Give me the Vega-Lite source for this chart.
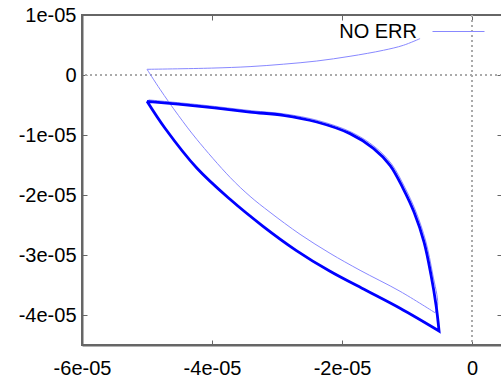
{
  "$schema": "https://vega.github.io/schema/vega-lite/v6.json",
  "width": 420,
  "height": 330,
  "autosize": {"type": "none"},
  "padding": {"left": 82, "top": 15, "right": 0, "bottom": 34},
  "background": "white",
  "config": {
    "view": {"stroke": "#666", "strokeWidth": 2},
    "axis": {
      "labelFont": "Liberation Sans",
      "labelFontSize": 20,
      "labelColor": "#000",
      "labelFlush": false,
      "labelOverlap": false,
      "domainColor": "#666",
      "domainWidth": 2,
      "tickColor": "#666",
      "tickSize": -5,
      "tickWidth": 1,
      "grid": false,
      "title": null
    }
  },
  "data": {
    "values": [
      {"s": "NO ERR", "i": 0, "x": -8.0e-6, "y": 6.07e-6},
      {"s": "NO ERR", "i": 1, "x": -1.057e-5, "y": 4.95e-6},
      {"s": "NO ERR", "i": 2, "x": -1.364e-5, "y": 4.12e-6},
      {"s": "NO ERR", "i": 3, "x": -1.877e-5, "y": 3.12e-6},
      {"s": "NO ERR", "i": 4, "x": -2.389e-5, "y": 2.33e-6},
      {"s": "NO ERR", "i": 5, "x": -2.903e-5, "y": 1.8e-6},
      {"s": "NO ERR", "i": 6, "x": -3.415e-5, "y": 1.4e-6},
      {"s": "NO ERR", "i": 7, "x": -4.005e-5, "y": 1.15e-6},
      {"s": "NO ERR", "i": 8, "x": -5.0e-5, "y": 0.95e-6},
      {"s": "NO ERR", "i": 9, "x": -5.0e-5, "y": 0.95e-6},
      {"s": "NO ERR", "i": 10, "x": -4.8e-5, "y": -2.38e-6},
      {"s": "NO ERR", "i": 11, "x": -4.518e-5, "y": -6.72e-6},
      {"s": "NO ERR", "i": 12, "x": -4.235e-5, "y": -1.072e-5},
      {"s": "NO ERR", "i": 13, "x": -3.723e-5, "y": -1.705e-5},
      {"s": "NO ERR", "i": 14, "x": -3.415e-5, "y": -2.022e-5},
      {"s": "NO ERR", "i": 15, "x": -3.108e-5, "y": -2.288e-5},
      {"s": "NO ERR", "i": 16, "x": -2.646e-5, "y": -2.655e-5},
      {"s": "NO ERR", "i": 17, "x": -2.185e-5, "y": -2.972e-5},
      {"s": "NO ERR", "i": 18, "x": -1.723e-5, "y": -3.255e-5},
      {"s": "NO ERR", "i": 19, "x": -1.108e-5, "y": -3.605e-5},
      {"s": "NO ERR", "i": 20, "x": -5.69e-6, "y": -3.963e-5},
      {"s": "NO ERR", "i": 21, "x": -5.69e-6, "y": -3.963e-5},
      {"s": "NO ERR", "i": 22, "x": -5.29e-6, "y": -3.818e-5},
      {"s": "NO ERR", "i": 23, "x": -6.06e-6, "y": -3.318e-5},
      {"s": "NO ERR", "i": 24, "x": -7.13e-6, "y": -2.768e-5},
      {"s": "NO ERR", "i": 25, "x": -8.67e-6, "y": -2.268e-5},
      {"s": "NO ERR", "i": 26, "x": -1.037e-5, "y": -1.868e-5},
      {"s": "NO ERR", "i": 27, "x": -1.237e-5, "y": -1.485e-5},
      {"s": "NO ERR", "i": 28, "x": -1.493e-5, "y": -1.2e-5},
      {"s": "NO ERR", "i": 29, "x": -1.852e-5, "y": -9.55e-6},
      {"s": "NO ERR", "i": 30, "x": -2.364e-5, "y": -7.6e-6},
      {"s": "NO ERR", "i": 31, "x": -2.878e-5, "y": -6.5e-6},
      {"s": "NO ERR", "i": 32, "x": -3.39e-5, "y": -5.95e-6},
      {"s": "NO ERR", "i": 33, "x": -4.16e-5, "y": -5.0e-6},
      {"s": "NO ERR", "i": 34, "x": -4.975e-5, "y": -4.15e-6},
      {"s": "ERR", "i": 0, "x": -5.0e-5, "y": -4.38e-6},
      {"s": "ERR", "i": 1, "x": -4.185e-5, "y": -5.22e-6},
      {"s": "ERR", "i": 2, "x": -3.415e-5, "y": -6.17e-6},
      {"s": "ERR", "i": 3, "x": -2.903e-5, "y": -6.72e-6},
      {"s": "ERR", "i": 4, "x": -2.389e-5, "y": -7.83e-6},
      {"s": "ERR", "i": 5, "x": -1.877e-5, "y": -9.77e-6},
      {"s": "ERR", "i": 6, "x": -1.518e-5, "y": -1.222e-5},
      {"s": "ERR", "i": 7, "x": -1.262e-5, "y": -1.505e-5},
      {"s": "ERR", "i": 8, "x": -1.062e-5, "y": -1.888e-5},
      {"s": "ERR", "i": 9, "x": -8.92e-6, "y": -2.288e-5},
      {"s": "ERR", "i": 10, "x": -7.38e-6, "y": -2.788e-5},
      {"s": "ERR", "i": 11, "x": -6.31e-6, "y": -3.338e-5},
      {"s": "ERR", "i": 12, "x": -5.54e-6, "y": -3.838e-5},
      {"s": "ERR", "i": 13, "x": -5.08e-6, "y": -4.267e-5},
      {"s": "ERR", "i": 14, "x": -5.08e-6, "y": -4.267e-5},
      {"s": "ERR", "i": 15, "x": -1.108e-5, "y": -3.888e-5},
      {"s": "ERR", "i": 16, "x": -1.662e-5, "y": -3.572e-5},
      {"s": "ERR", "i": 17, "x": -2.185e-5, "y": -3.272e-5},
      {"s": "ERR", "i": 18, "x": -2.708e-5, "y": -2.922e-5},
      {"s": "ERR", "i": 19, "x": -3.215e-5, "y": -2.522e-5},
      {"s": "ERR", "i": 20, "x": -3.723e-5, "y": -2.072e-5},
      {"s": "ERR", "i": 21, "x": -4.231e-5, "y": -1.555e-5},
      {"s": "ERR", "i": 22, "x": -4.723e-5, "y": -8.88e-6},
      {"s": "ERR", "i": 23, "x": -5.0e-5, "y": -4.38e-6}
    ]
  },
  "layer": [
    {
      "mark": {"type": "rule", "color": "#aaa", "strokeDash": [2, 3], "strokeWidth": 1},
      "encoding": {
        "y": {
          "datum": 0,
          "type": "quantitative",
          "scale": {"domain": [-4.5e-5, 1e-5], "nice": false, "zero": false},
          "axis": {"orient": "right", "labels": false, "domain": false, "values": [1e-5, 0, -1e-5, -2e-5, -3e-5, -4e-5]}
        }
      }
    },
    {
      "mark": {"type": "rule", "color": "#aaa", "strokeDash": [2, 3], "strokeWidth": 1},
      "encoding": {
        "x": {
          "datum": 0,
          "type": "quantitative",
          "scale": {"domain": [-6e-5, 4.6e-6], "nice": false, "zero": false},
          "axis": {"orient": "top", "labels": false, "domain": false, "values": [-6e-5, -4e-5, -2e-5, 0]}
        }
      }
    },
    {
      "transform": [{"filter": "datum.s == 'NO ERR'"}],
      "mark": {"type": "line", "strokeWidth": 1, "clip": true, "interpolate": "catmull-rom"},
      "encoding": {
        "x": {
          "field": "x",
          "type": "quantitative",
          "scale": {"domain": [-6e-5, 4.6e-6], "nice": false, "zero": false},
          "axis": {
            "orient": "bottom",
            "values": [-6e-5, -4e-5, -2e-5, 0],
            "labelPadding": 18,
            "labelExpr": "datum.value == 0 ? '0' : replace(replace(format(datum.value, '.0e'), regexp('\u2212', 'g'), '-'), regexp('e-([0-9])$'), 'e-0$1')"
          }
        },
        "y": {
          "field": "y",
          "type": "quantitative",
          "scale": {"domain": [-4.5e-5, 1e-5], "nice": false, "zero": false},
          "axis": {
            "orient": "left",
            "values": [1e-5, 0, -1e-5, -2e-5, -3e-5, -4e-5],
            "labelPadding": 11,
            "labelExpr": "datum.value == 0 ? '0' : replace(replace(format(datum.value, '.0e'), regexp('\u2212', 'g'), '-'), regexp('e-([0-9])$'), 'e-0$1')"
          }
        },
        "order": {"field": "i", "type": "quantitative"},
        "color": {
          "field": "s",
          "type": "nominal",
          "scale": {"domain": ["NO ERR", "ERR"], "range": ["#8888ff", "#0000ff"]},
          "legend": {
            "values": ["NO ERR"],
            "orient": "none",
            "legendX": 350,
            "legendY": -10,
            "title": null,
            "padding": 0,
            "symbolType": "stroke",
            "symbolSize": 2704,
            "symbolStrokeWidth": 1,
            "labelAlign": "right",
            "labelOffset": -68,
            "labelFont": "Liberation Sans",
            "labelFontSize": 20,
            "labelColor": "#000"
          }
        }
      }
    },
    {
      "transform": [{"filter": "datum.s == 'ERR'"}],
      "mark": {"type": "line", "strokeWidth": 2.8, "clip": true, "interpolate": "catmull-rom"},
      "encoding": {
        "x": {"field": "x", "type": "quantitative", "scale": {"domain": [-6e-5, 4.6e-6], "nice": false, "zero": false}, "axis": null},
        "y": {"field": "y", "type": "quantitative", "scale": {"domain": [-4.5e-5, 1e-5], "nice": false, "zero": false}, "axis": null},
        "order": {"field": "i", "type": "quantitative"},
        "color": {"field": "s", "type": "nominal", "scale": {"domain": ["NO ERR", "ERR"], "range": ["#8888ff", "#0000ff"]}, "legend": null}
      }
    }
  ],
  "resolve": {"axis": {"x": "independent", "y": "independent"}}
}
